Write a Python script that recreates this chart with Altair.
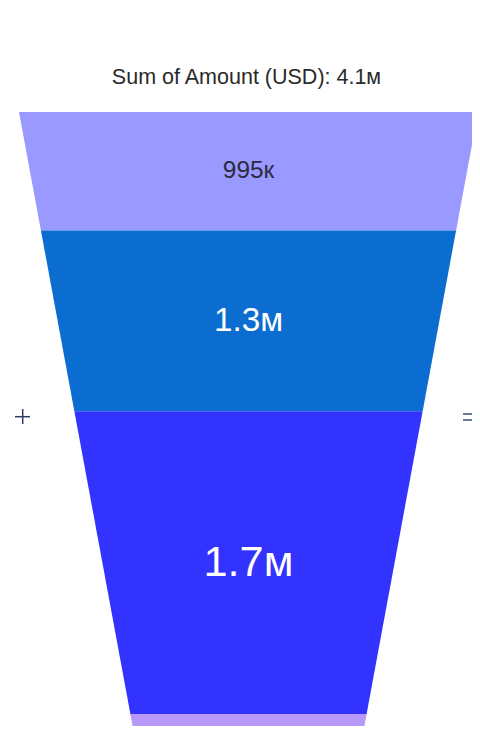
import math
import altair as alt
import pandas as pd

# ---- data ----
stages = ["Stage 1", "Stage 2", "Stage 3", "Stage 4"]
amounts = [995000, 1327000, 1702000, 54000]
labels = ["995к", "1.3м", "1.7м", ""]
title_text = "Sum of Amount (USD): 4.1м"

# ---- style ----
band_colors = ["#9999ff", "#0b6dd0", "#3333ff", "#b899f8"]
FONT = "Liberation Sans"
TOP_HALF = 1.0       # half width of funnel at top (x units)
BOTTOM_HALF = 0.505  # half width of funnel at bottom (x units)

# area-proportional funnel: cumulative area -> depth v in [0, 1]
a = (TOP_HALF - BOTTOM_HALF) / 2.0
total_area = (TOP_HALF + BOTTOM_HALF) / 2.0
total = float(sum(amounts))


def depth(frac):
    c = frac * total_area
    return (TOP_HALF - math.sqrt(TOP_HALF ** 2 - 4 * a * c)) / (2 * a)


def half_width(v):
    return TOP_HALF - (TOP_HALF - BOTTOM_HALF) * v


bounds = [0.0]
cum = 0.0
for amt in amounts:
    cum += amt
    bounds.append(depth(cum / total))

area_rows = []
label_rows = []
for i, s in enumerate(stages):
    for v in (bounds[i], bounds[i + 1]):
        w = half_width(v)
        area_rows.append({"stage": s, "v": v, "left": -w, "right": w})
    label_rows.append({
        "stage": s,
        "label": labels[i],
        "amount": amounts[i],
        "v": (bounds[i] + bounds[i + 1]) / 2.0,
        "xc": 0.0,
    })
area_df = pd.DataFrame(area_rows)
label_df = pd.DataFrame(label_rows[:3])

W, H = 464, 732
TOP_PX, FUNNEL_PX = 104, 614
CX, HALF_PX = 240.5, 229.5
yscale = alt.Scale(domain=[-TOP_PX / FUNNEL_PX, (H - TOP_PX) / FUNNEL_PX], reverse=True, nice=False, zero=False)
xscale = alt.Scale(domain=[-CX / HALF_PX, (W - CX) / HALF_PX], nice=False, zero=False)

bands = []
for i, s in enumerate(stages):
    bands.append(
        alt.Chart(area_df[area_df["stage"] == s]).mark_area(
            orient="horizontal", color=band_colors[i]
        ).encode(
            y=alt.Y("v:Q", scale=yscale, axis=None),
            x=alt.X("left:Q", scale=xscale, axis=None),
            x2=alt.X2("right:Q"),
        )
    )

text = alt.Chart(label_df).mark_text(font=FONT, align="center", baseline="middle").encode(
    y=alt.Y("v:Q", scale=yscale, axis=None),
    x=alt.X("xc:Q", scale=xscale, axis=None),
    text="label:N",
    size=alt.Size("amount:Q", scale=alt.Scale(domain=[995000, 1702000], range=[24.4, 43.3], zero=False), legend=None),
    color=alt.condition(alt.datum.stage == stages[0], alt.value("#2b2b3f"), alt.value("#ffffff")),
)

title = alt.Chart(pd.DataFrame({"t": [title_text]})).mark_text(
    font=FONT, fontSize=21.5, align="center", baseline="alphabetic", color="#2a2a2a"
).encode(text="t:N", x=alt.value(238.5), y=alt.value(76))

one = pd.DataFrame({"k": [0]})
sym_color = "#2d3a66"
plus_h = alt.Chart(one).mark_rule(color=sym_color, strokeWidth=1.5).encode(
    x=alt.value(7), x2=alt.value(22), y=alt.value(408.7))
plus_v = alt.Chart(one).mark_rule(color=sym_color, strokeWidth=1.5).encode(
    x=alt.value(14.7), y=alt.value(401), y2=alt.value(416))
eq_1 = alt.Chart(one).mark_rule(color="#3a4a7a", strokeWidth=1.5).encode(
    x=alt.value(455), x2=alt.value(464), y=alt.value(406))
eq_2 = alt.Chart(one).mark_rule(color="#3a4a7a", strokeWidth=1.5).encode(
    x=alt.value(455), x2=alt.value(464), y=alt.value(412))

chart = alt.layer(*bands, text, title, plus_h, plus_v, eq_1, eq_2).properties(
    width=W, height=H, padding=0, autosize=alt.AutoSizeParams(type="none"),
    background="white",
).configure_view(stroke=None)

chart.save("out.html", embed_options={"renderer": "svg", "actions": False})
